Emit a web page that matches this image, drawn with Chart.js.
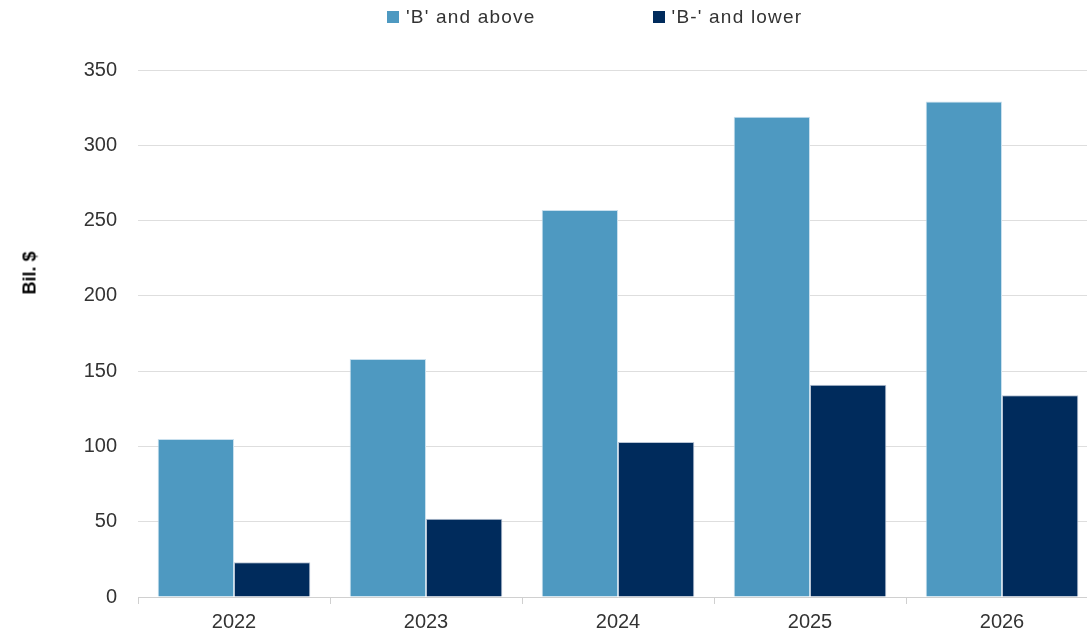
<!DOCTYPE html>
<html>
<head>
<meta charset="utf-8">
<script src="https://cdn.jsdelivr.net/npm/chart.js@4"></script>
<style>
  html, body { margin: 0; padding: 0; background: #fff; overflow: hidden; }
  #wrap { width: 1098px; height: 634px; position: relative; }
  #legend { position: absolute; top: 6px; left: 387px; display: flex; align-items: center;
            font-family: 'Liberation Sans', Arial, sans-serif; font-size: 19px; color: #333;
            letter-spacing: 1.2px; white-space: nowrap; }
  #legend .item { display: flex; align-items: center; }
  #legend .item + .item { margin-left: 117px; }
  #legend .box { width: 12px; height: 12px; margin-right: 7px; }
  #ytitle { position: absolute; left: 30px; top: 273px; transform: translate(-50%, -50%) rotate(-90deg);
            font-family: 'Liberation Sans', Arial, sans-serif; font-size: 18px; font-weight: bold;
            color: #000; white-space: nowrap; }
</style>
</head>
<body>
<div id="wrap">
  <canvas id="myChart"></canvas>
  <div id="legend"></div>
  <div id="ytitle">Bil. $</div>
</div>
<script>
const years = ['2022', '2023', '2024', '2025', '2026'];
const bAndAbove = [105, 158, 257, 319, 329];
const bMinusAndLower = [23, 52, 103, 141, 134];
const yTicks = [0, 50, 100, 150, 200, 250, 300, 350];

document.addEventListener('DOMContentLoaded', function () {
    const ctx = document.getElementById('myChart');
    Chart.defaults.font.family = "'Liberation Sans', Arial, sans-serif";
    Chart.defaults.color = '#333';

    const chart = new Chart(ctx, {
        type: 'bar',
        data: {
            labels: years,
            datasets: [
                {
                    label: "'B' and above",
                    data: bAndAbove,
                    backgroundColor: '#4e99c1',
                    borderColor: '#c9e0ee',
                    borderWidth: 1
                },
                {
                    label: "'B-' and lower",
                    data: bMinusAndLower,
                    backgroundColor: '#002b5c',
                    borderColor: '#b8c4d4',
                    borderWidth: 1
                }
            ]
        },
        options: {
            responsive: true,
            maintainAspectRatio: false,
            animation: false,
            layout: { padding: { left: 8, right: 0, top: 70, bottom: 0 } },
            datasets: {
                bar: { categoryPercentage: 0.795, barPercentage: 1.0 }
            },
            plugins: {
                legend: { display: false },
                tooltip: { enabled: false }
            },
            scales: {
                x: {
                    afterFit: function (axis) { axis.height = 37; },
                    grid: {
                        offset: true,
                        drawOnChartArea: false,
                        drawTicks: true,
                        tickLength: 7,
                        color: '#d0d0d0'
                    },
                    border: { color: '#d0d0d0' },
                    ticks: { font: { size: 20 }, color: '#333', padding: 6 }
                },
                y: {
                    min: 0,
                    max: 350,
                    afterBuildTicks: function (axis) {
                        axis.ticks = yTicks.map(v => ({ value: v }));
                    },
                    afterFit: function (axis) { axis.width = 130; },
                    grid: { color: '#dedede', drawTicks: false },
                    border: { display: false },
                    ticks: { font: { size: 20 }, color: '#333', padding: 21 }
                }
            }
        }
    });

    // legend built from the chart's own datasets
    const legend = document.getElementById('legend');
    chart.data.datasets.forEach(function (ds) {
        const item = document.createElement('div');
        item.className = 'item';
        const box = document.createElement('span');
        box.className = 'box';
        box.style.background = ds.backgroundColor;
        const label = document.createElement('span');
        label.textContent = ds.label;
        item.appendChild(box);
        item.appendChild(label);
        legend.appendChild(item);
    });
});
</script>
</body>
</html>
